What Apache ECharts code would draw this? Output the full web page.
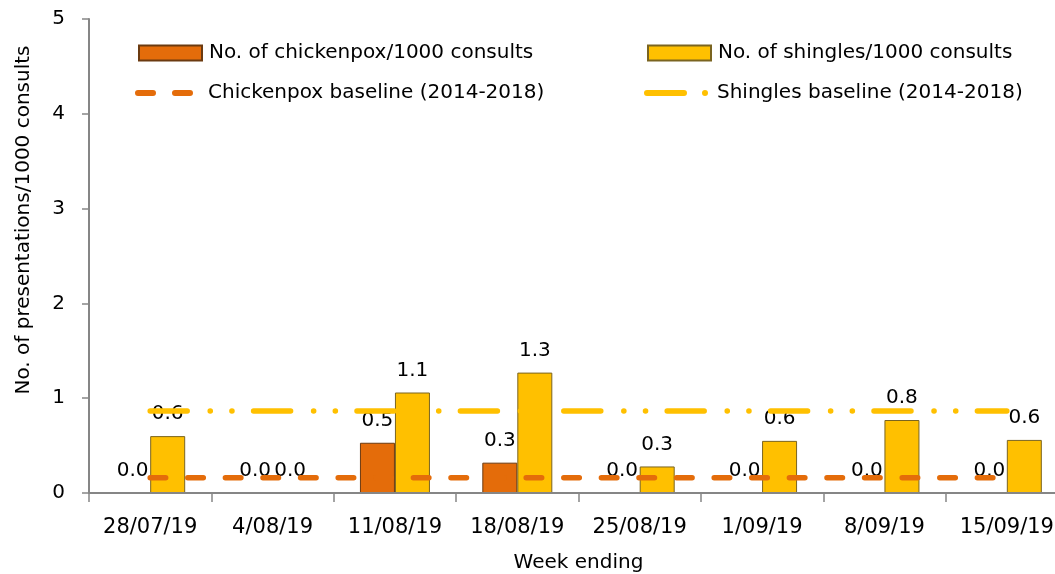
<!DOCTYPE html>
<html>
<head>
<meta charset="utf-8">
<script src="https://cdn.jsdelivr.net/npm/echarts@6/dist/echarts.min.js"></script>
<style>
html,body{margin:0;padding:0;background:#fff;}
#chart{width:1055px;height:574px;}
</style>
</head>
<body>
<div id="chart"></div>
<script>
const weeks = ['28/07/19','4/08/19','11/08/19','18/08/19','25/08/19','1/09/19','8/09/19','15/09/19'];
const chickenpox = [0, 0, 0.53, 0.32, 0, 0, 0, 0];
const shingles = [0.6, 0, 1.06, 1.27, 0.28, 0.55, 0.77, 0.56];
const chickenpoxBaseline = [0.16, 0.16, 0.16, 0.16, 0.16, 0.16, 0.16, 0.16];
const shinglesBaseline = [0.865, 0.865, 0.865, 0.865, 0.865, 0.865, 0.865, 0.865];
const yTicks = [0, 1, 2, 3, 4, 5];

const FONT = 'DejaVu Sans';
const names = {
  cp: 'No. of chickenpox/1000 consults',
  sh: 'No. of shingles/1000 consults',
  cpb: 'Chickenpox baseline (2014-2018)',
  shb: 'Shingles baseline (2014-2018)'
};
const cpDash = [15.5, 22.1];
const shDash = [37, 23, 0.1, 21.6, 0.1, 21.6];

const cpIcon = 'path://M3,0 L18,0 A3,3 0 0 1 18,6 L3,6 A3,3 0 0 1 3,0 Z M40,0 L55,0 A3,3 0 0 1 55,6 L40,6 A3,3 0 0 1 40,0 Z';
const shIcon = 'path://M3,0 L40,0 A3,3 0 0 1 40,6 L3,6 A3,3 0 0 1 3,0 Z M61,0 A3,3 0 0 1 61,6 A3,3 0 0 1 61,0 Z';

function legend(item, left, top, w, h, padLeft) {
  return {
    data: [item], left: left, top: top, itemWidth: w, itemHeight: h,
    padding: 0, selectedMode: false,
    textStyle: { fontFamily: FONT, fontSize: 20, color: '#000', lineHeight: 24, padding: [0, 0, 0, padLeft] }
  };
}

const chart = echarts.init(document.getElementById('chart'), null, { renderer: 'canvas' });
chart.setOption({
  animation: false,
  backgroundColor: '#fff',
  textStyle: { fontFamily: FONT },
  grid: { left: 89, top: 19, width: 979, height: 474, containLabel: false, outerBoundsMode: 'none' },
  legend: [
    legend({ name: names.cp, icon: 'rect' }, 138, 41, 63, 15, 2),
    legend({ name: names.sh, icon: 'rect' }, 647, 41, 63, 15, 2),
    legend({ name: names.cpb, icon: cpIcon, itemStyle: { borderWidth: 0 } }, 135, 81, 58, 6, 10),
    legend({ name: names.shb, icon: shIcon, itemStyle: { borderWidth: 0 } }, 644, 81, 64, 6, 4)
  ],
  xAxis: {
    type: 'category',
    data: weeks,
    boundaryGap: true,
    z: 3,
    name: 'Week ending',
    nameLocation: 'middle',
    nameGap: 60,
    nameTextStyle: { fontFamily: FONT, fontSize: 20, color: '#000' },
    axisLine: { show: true, lineStyle: { color: '#868686', width: 2 } },
    axisTick: { show: true, length: 9, alignWithLabel: false, lineStyle: { color: '#868686', width: 1.5 } },
    axisLabel: { fontFamily: FONT, fontSize: 21, color: '#000', margin: 24, interval: 0 },
    splitLine: { show: false }
  },
  yAxis: {
    type: 'value',
    min: yTicks[0],
    max: yTicks[yTicks.length - 1],
    interval: 1,
    name: 'No. of presentations/1000 consults',
    nameLocation: 'middle',
    nameGap: 55,
    nameTextStyle: { fontFamily: FONT, fontSize: 20, color: '#000', padding: [0, 0, 0, 72] },
    axisLine: { show: true, lineStyle: { color: '#868686', width: 2 } },
    axisTick: { show: true, length: 7, lineStyle: { color: '#868686', width: 1.5 } },
    axisLabel: { fontFamily: FONT, fontSize: 20, color: '#000', margin: 24 },
    splitLine: { show: false }
  },
  series: [
    {
      name: names.cp,
      type: 'bar',
      data: chickenpox,
      barWidth: 35,
      barGap: '0%',
      itemStyle: { color: '#E46C0A', borderColor: '#6b3a10', borderWidth: 1 },
      label: {
        show: true, position: 'top', distance: 12,
        fontFamily: FONT, fontSize: 20, color: '#000',
        formatter: p => p.value.toFixed(1)
      },
      z: 2
    },
    {
      name: names.sh,
      type: 'bar',
      data: shingles,
      barWidth: 35,
      barGap: '0%',
      itemStyle: { color: '#FFC000', borderColor: '#7a6420', borderWidth: 1 },
      label: {
        show: true, position: 'top', distance: 12,
        fontFamily: FONT, fontSize: 20, color: '#000',
        formatter: p => p.value.toFixed(1)
      },
      z: 2
    },
    {
      name: names.cpb,
      type: 'line',
      data: chickenpoxBaseline,
      symbol: 'none',
      lineStyle: { color: '#E46C0A', width: 5.5, type: cpDash, cap: 'round' },
      itemStyle: { color: '#E46C0A' },
      z: 4
    },
    {
      name: names.shb,
      type: 'line',
      data: shinglesBaseline,
      symbol: 'none',
      lineStyle: { color: '#FFC000', width: 5.5, type: shDash, cap: 'round' },
      itemStyle: { color: '#FFC000' },
      z: 4
    }
  ]
});
</script>
</body>
</html>
